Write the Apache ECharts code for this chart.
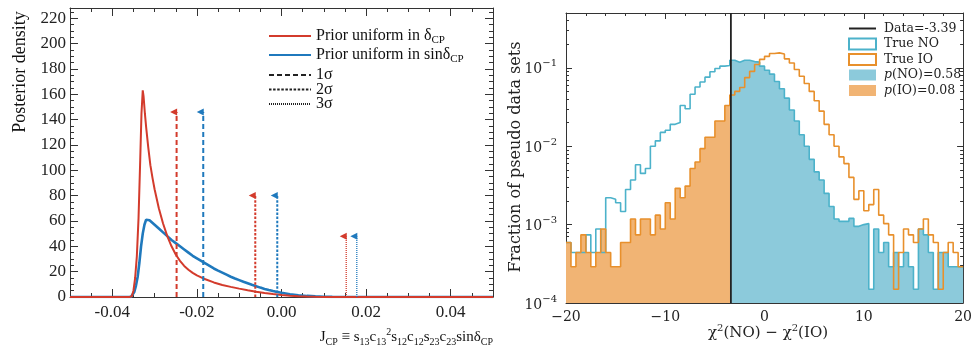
<!DOCTYPE html>
<html><head><meta charset="utf-8">
<script src="https://cdn.jsdelivr.net/npm/echarts@6/dist/echarts.min.js"></script>
<style>html,body{margin:0;padding:0;background:#fff}#c{width:975px;height:348px}</style>
</head><body><div id="c"></div><script>
// ---------- Left panel data ----------
const redCurve = [
[-0.050,0],[-0.036,0],[-0.0354,0.5],[-0.0350,5],[-0.0346,15],[-0.0342,32],[-0.0338,62],[-0.0334,108],[-0.0331,145],[-0.0328,163],[-0.0326,158],[-0.0323,145],[-0.0320,134],[-0.0315,118],[-0.0310,104],[-0.0305,94],[-0.0300,85],[-0.0290,70],[-0.0280,58],[-0.0270,48],[-0.0260,40],[-0.0250,33.5],[-0.0240,28.5],[-0.0230,24.5],[-0.0220,21.5],[-0.0210,19],[-0.0200,17],[-0.0190,15.5],[-0.0180,14],[-0.0160,11.5],[-0.0140,9.5],[-0.0120,8],[-0.0100,6.6],[-0.0080,5.3],[-0.0060,4.2],[-0.0040,3.2],[-0.0020,2.3],[0.0000,1.6],[0.0020,1.0],[0.0040,0.6],[0.0060,0.35],[0.0080,0.18],[0.0100,0.08],[0.0120,0.03],[0.0140,0],[0.050,0]
];
const blueCurve = [
[-0.050,0],[-0.0356,0],[-0.0352,1],[-0.0348,4],[-0.0344,9],[-0.0340,16],[-0.0336,27],[-0.0332,40],[-0.0328,50],[-0.0324,57],[-0.0320,61],[-0.0316,61.5],[-0.0312,60.5],[-0.0310,60],[-0.0300,57],[-0.0290,54],[-0.0280,51],[-0.0270,48],[-0.0260,45],[-0.0250,42.5],[-0.0240,40],[-0.0230,37.5],[-0.0220,35],[-0.0210,32.5],[-0.0200,30.5],[-0.0190,28.5],[-0.0180,26.5],[-0.0170,24.5],[-0.0160,22.5],[-0.0150,20.8],[-0.0140,19.2],[-0.0130,17.6],[-0.0120,16],[-0.0110,14.6],[-0.0100,13.3],[-0.0090,12],[-0.0080,10.8],[-0.0070,9.6],[-0.0060,8.5],[-0.0050,7.4],[-0.0040,6.4],[-0.0030,5.5],[-0.0020,4.7],[-0.0010,4],[0.0000,3.3],[0.0020,2.2],[0.0040,1.4],[0.0060,0.85],[0.0080,0.5],[0.0100,0.25],[0.0120,0.12],[0.0140,0.05],[0.0160,0.02],[0.0180,0],[0.050,0]
];
const sigmaLabels = ['1σ', '2σ', '3σ'];
const sigmaRed = [-0.0248, -0.0062, 0.0153];
const sigmaBlue = [-0.0185, -0.0010, 0.0178];
const sigmaHeight = [146, 80, 48];
const jcpTicks = [-0.04, -0.02, 0, 0.02, 0.04];
const redName = 'Prior uniform in δCP';
const blueName = 'Prior uniform in sinδCP';

// ---------- Right panel data ----------
const binStart = -20, binWidth = 0.5;
const trueNO = [
5.9e-4,4.4e-4,4.4e-4,4.4e-4,7.4e-4,4.4e-4,8.8e-4,4.4e-4,2.2e-3,2.1e-3,
1.9e-3,1.47e-3,2.8e-3,3.7e-3,5.8e-3,4.5e-3,5.2e-3,1.0e-2,1.17e-2,1.5e-2,
1.6e-2,1.9e-2,2.0e-2,3.3e-2,3.0e-2,4.6e-2,5.7e-2,6.6e-2,7.6e-2,8.9e-2,
9.8e-2,0.105,0.107,0.125,0.118,0.125,0.125,0.12,0.118,0.105,
0.093,0.083,0.067,0.054,0.041,0.029,0.021,0.014,0.010,0.0068,
0.0047,0.0037,0.0025,0.0017,1.18e-3,1.1e-3,1.1e-3,1.2e-3,9.5e-4,1.0e-3,
1.03e-3,1.5e-4,8.8e-4,4.4e-4,5.9e-4,2.9e-4,4.4e-4,2.9e-4,4.4e-4,2.9e-4,
1.5e-4,8.8e-4,7.4e-4,4.4e-4,1.5e-4,4.4e-4,4.4e-4,2.9e-4,2.9e-4,2.9e-4
];
const trueIO = [
5.9e-4,2.9e-4,4.4e-4,7.4e-4,4.4e-4,2.9e-4,4.4e-4,8.8e-4,4.4e-4,2.9e-4,
2.9e-4,5.9e-4,5.9e-4,1.18e-3,7.4e-4,1.18e-3,1.18e-3,7.4e-4,1.32e-3,8.8e-4,
1.9e-3,1.18e-3,2.9e-3,2.2e-3,3.1e-3,5.2e-3,6.3e-3,9.3e-3,1.3e-2,1.3e-2,
2.1e-2,2.1e-2,3.3e-2,0.045,0.05,0.056,0.075,0.09,0.11,0.128,
0.14,0.152,0.155,0.15,0.13,0.115,0.095,0.078,0.063,0.05,
0.038,0.028,0.019,0.014,0.01,0.0073,0.006,0.004,0.0021,0.0027,
0.0015,0.0018,0.0028,1.32e-3,1.03e-3,7.4e-4,1.5e-4,4.4e-4,8.8e-4,7.4e-4,
5.9e-4,8.8e-4,1.18e-3,7.4e-4,5.9e-4,1.5e-4,4.4e-4,5.9e-4,4.4e-4,2.9e-4
];
const dataValue = -3.39;
const pNO = '0.58', pIO = '0.08';
const xTicksR = [-20, -10, 0, 10, 20];

// ---------- styling ----------
const serifL = '"Liberation Serif", "Times New Roman", serif';
const serifR = '"DejaVu Serif", serif';
const RED = '#d33b2c', BLUE = '#1f79bd';
const NO_LINE = '#4cb2ca', IO_LINE = '#e8902c', NO_FILL = '#8ccadb', IO_FILL = '#f1b474';
const AX = '#333';
const yMinR = 1e-4, yMaxR = 0.5;
const NOSYM = { color: 'rgba(0,0,0,0)', borderWidth: 0 };

// ---------- build histogram step data ----------
const nb = trueNO.length;
const binEdges = [];
for (let i = 0; i <= nb; i++) binEdges.push(binStart + i * binWidth);
function stepData(vals) {
  const d = vals.map((v, i) => [binEdges[i], v]);
  d.push([binEdges[nb], vals[nb - 1]]);
  return d;
}
const cut = Math.floor((dataValue - binStart) / binWidth);
const noFill = [[dataValue, trueNO[cut]]];
for (let i = cut + 1; i < nb; i++) noFill.push([binEdges[i], trueNO[i]]);
noFill.push([binEdges[nb], trueNO[nb - 1]]);
const ioFill = [];
for (let i = 0; i <= cut; i++) ioFill.push([binEdges[i], trueIO[i]]);
ioFill.push([dataValue, trueIO[cut]]);

const minorLog = [];
for (let e = -4; e <= -1; e++) for (let m = 2; m <= 9; m++) { const v = m * Math.pow(10, e); if (v < yMaxR) minorLog.push(v); }

const chart = echarts.init(document.getElementById('c'));

const dashes = [[5, 3], [2.5, 1.6], [1, 1]];
const widths = [2, 2, 1.3];

const series = [];
series.push({ name: redName, type: 'line', xAxisIndex: 0, yAxisIndex: 0, data: redCurve, symbol: 'none',
  lineStyle: { color: RED, width: 2 }, itemStyle: { color: RED }, z: 3 });
series.push({ name: blueName, type: 'line', xAxisIndex: 0, yAxisIndex: 0, data: blueCurve, symbol: 'none',
  lineStyle: { color: BLUE, width: 2.6 }, itemStyle: { color: BLUE }, z: 2 });
[[sigmaRed, RED], [sigmaBlue, BLUE]].forEach(([xs, col], ci) => {
  xs.forEach((xv, i) => {
    series.push({ name: sigmaLabels[i] + (ci ? ' blue' : ' red'), type: 'line', xAxisIndex: 0, yAxisIndex: 0,
      symbol: 'triangle', symbolSize: 7, symbolRotate: 90, symbolOffset: [-3, 0], showSymbol: true,
      data: [{ value: [xv, 0], symbol: 'none' }, { value: [xv, sigmaHeight[i]] }],
      lineStyle: { color: col, width: widths[i], type: dashes[i] }, itemStyle: { color: col }, z: 4, silent: true });
  });
});
sigmaLabels.forEach((n, i) => {
  series.push({ name: n, type: 'line', xAxisIndex: 0, yAxisIndex: 0, data: [], symbol: 'none',
    lineStyle: { color: '#222', width: widths[i] * 0.8, type: dashes[i] }, itemStyle: { color: '#222' } });
});
// right panel
series.push({ name: 'p(IO)=' + pIO, type: 'line', step: 'end', xAxisIndex: 4, yAxisIndex: 2, data: ioFill, symbol: 'none',
  lineStyle: { width: 0, color: IO_FILL }, itemStyle: { color: IO_FILL }, areaStyle: { color: IO_FILL, opacity: 1, origin: 'start' }, z: 1 });
series.push({ name: 'p(NO)=' + pNO, type: 'line', step: 'end', xAxisIndex: 4, yAxisIndex: 2, data: noFill, symbol: 'none',
  lineStyle: { width: 0, color: NO_FILL }, itemStyle: { color: NO_FILL }, areaStyle: { color: NO_FILL, opacity: 1, origin: 'start' }, z: 1 });
series.push({ name: 'True NO', type: 'line', step: 'end', xAxisIndex: 4, yAxisIndex: 2, data: stepData(trueNO), symbol: 'none',
  lineStyle: { width: 1.6, color: NO_LINE }, itemStyle: { color: NO_LINE }, z: 2 });
series.push({ name: 'True IO', type: 'line', step: 'end', xAxisIndex: 4, yAxisIndex: 2, data: stepData(trueIO), symbol: 'none',
  lineStyle: { width: 1.6, color: IO_LINE }, itemStyle: { color: IO_LINE }, z: 2 });
series.push({ name: 'Data=' + dataValue, type: 'line', xAxisIndex: 4, yAxisIndex: 2, data: [[dataValue, yMinR], [dataValue, yMaxR]], symbol: 'none',
  lineStyle: { width: 1.8, color: '#222' }, itemStyle: { color: '#222' }, z: 5 });

const hidden = { show: false };
function line(show) { return { show: show, onZero: false, lineStyle: { color: AX, width: 1 } }; }
function xL(pos, major, labels) {
  const a = { gridIndex: 0, type: 'value', min: -0.05, max: 0.05, position: pos, splitLine: hidden, axisLine: line(major) };
  if (major) {
    a.axisTick = { show: true, inside: true, length: 8, customValues: jcpTicks, lineStyle: { color: AX } };
    a.axisLabel = labels ? { show: true, customValues: jcpTicks, margin: 7, color: '#222', fontFamily: serifL, fontSize: 17,
      formatter: v => (Math.abs(v) < 1e-9 ? '0.00' : v.toFixed(2)) } : hidden;
  } else {
    a.interval = 0.005;
    a.axisTick = { show: true, inside: true, length: 4, lineStyle: { color: AX } };
    a.axisLabel = hidden;
  }
  return a;
}
function yL(pos, labels) {
  return { gridIndex: 0, type: 'value', min: 0, max: 228, interval: 20, position: pos, splitLine: hidden, axisLine: line(true),
    axisTick: { show: true, inside: true, length: 8, lineStyle: { color: AX } },
    minorTick: { show: true, splitNumber: 4, length: 4, lineStyle: { color: AX } },
    axisLabel: labels ? { show: true, margin: 4, color: '#222', fontFamily: serifL, fontSize: 17,
      formatter: v => (v % 20 === 0 ? String(v) : '') } : hidden };
}
function xR(pos, labels) {
  return { gridIndex: 1, type: 'value', min: -20, max: 20, interval: 10, position: pos, splitLine: hidden, axisLine: line(true),
    axisTick: { show: true, inside: true, length: 6, lineStyle: { color: AX } },
    minorTick: { show: true, splitNumber: 5, length: 3, lineStyle: { color: AX } },
    axisLabel: labels ? { show: true, margin: 7, color: '#222', fontFamily: serifR, fontSize: 14,
      formatter: v => (xTicksR.indexOf(v) >= 0 ? String(v).replace('-', '−') : '') } : hidden };
}
function yR(pos, major, labels) {
  const a = { gridIndex: 1, type: 'log', logBase: 10, min: yMinR, max: yMaxR, position: pos, splitLine: hidden, axisLine: line(major) };
  if (major) {
    a.axisTick = { show: true, inside: true, length: 6, lineStyle: { color: AX } };
    a.axisLabel = labels ? { show: true, margin: 9, color: '#222', fontFamily: serifR,
      formatter: v => { const l = Math.log10(v); const e = Math.round(l); if (Math.abs(l - e) > 1e-6) return ''; return '{b|10}{sup|' + (e < 0 ? '−' : '') + Math.abs(e) + '}'; },
      rich: { b: { fontFamily: serifR, fontSize: 14, lineHeight: 18, verticalAlign: 'bottom', color: '#222' },
              sup: { fontFamily: serifR, fontSize: 10, lineHeight: 8, verticalAlign: 'top', color: '#222' } } } : hidden;
  } else {
    a.axisTick = { show: true, inside: true, length: 3, customValues: minorLog, lineStyle: { color: AX } };
    a.axisLabel = hidden;
  }
  return a;
}

const subRich = {
  t: { fontFamily: serifL, fontSize: 16, lineHeight: 20, verticalAlign: 'middle', color: '#111' },
  s: { fontFamily: serifL, fontSize: 11, lineHeight: 10, verticalAlign: 'bottom', color: '#111' },
  p: { fontFamily: serifL, fontSize: 11, lineHeight: 10, verticalAlign: 'top', color: '#111' }
};
const titleRich = {
  t: { fontFamily: serifL, fontSize: 15, lineHeight: 20, verticalAlign: 'middle', color: '#111' },
  s: { fontFamily: serifL, fontSize: 10, lineHeight: 10, verticalAlign: 'bottom', color: '#111' },
  p: { fontFamily: serifL, fontSize: 10, lineHeight: 10, verticalAlign: 'top', color: '#111' }
};

const option = {
  animation: false,
  backgroundColor: '#fff',
  grid: [
    { left: 70, top: 8, width: 423, height: 289, containLabel: false },
    { left: 566, top: 13, width: 404, height: 290, containLabel: false }
  ],
  xAxis: [xL('bottom', true, true), xL('top', true, false), xL('bottom', false, false), xL('top', false, false),
          xR('bottom', true), xR('top', false)],
  yAxis: [yL('left', true), yL('right', false),
          yR('left', true, true), yR('right', true, false), yR('left', false, false), yR('right', false, false)],
  legend: [
    { data: [{ name: redName, itemStyle: NOSYM }, { name: blueName, itemStyle: NOSYM }], orient: 'vertical', left: 268, top: 28,
      padding: 0, itemWidth: 42, itemHeight: 12, itemGap: 1,
      selectedMode: false, formatter: n => '{t|' + n.slice(0, -2) + '}{s|CP}',
      textStyle: { fontFamily: serifL, fontSize: 16, color: '#111', rich: subRich } },
    { data: sigmaLabels.map(n => ({ name: n, itemStyle: NOSYM })), orient: 'vertical', left: 268, top: 67,
      padding: 0, itemWidth: 42, itemHeight: 10, itemGap: -1.5,
      selectedMode: false, textStyle: { fontFamily: serifL, fontSize: 16, lineHeight: 12, color: '#111' } },
    { data: [
        { name: 'Data=' + dataValue, itemStyle: NOSYM },
        { name: 'True NO', icon: 'rect', itemStyle: { color: 'rgba(255,255,255,0)', borderColor: NO_LINE, borderWidth: 2 } },
        { name: 'True IO', icon: 'rect', itemStyle: { color: 'rgba(255,255,255,0)', borderColor: IO_LINE, borderWidth: 2 } },
        { name: 'p(NO)=' + pNO, icon: 'rect', itemStyle: { color: NO_FILL, borderWidth: 0 } },
        { name: 'p(IO)=' + pIO, icon: 'rect', itemStyle: { color: IO_FILL, borderWidth: 0 } }
      ],
      orient: 'vertical', left: 848, top: 22, padding: 0, itemWidth: 27, itemHeight: 11, itemGap: 2.5, selectedMode: false,
      formatter: n => n.indexOf('p(') === 0 ? '{i|p}{r|' + n.slice(1) + '}' : '{n|' + n + '}',
      textStyle: { fontFamily: serifR, fontSize: 12.5, color: '#222',
        rich: { n: { fontFamily: serifR, fontSize: 12.5, lineHeight: 16, color: '#222', padding: [0, 0, 0, 3] },
                r: { fontFamily: serifR, fontSize: 12.5, lineHeight: 16, color: '#222' },
                i: { fontFamily: serifR, fontSize: 12.5, lineHeight: 16, fontStyle: 'italic', color: '#222', padding: [0, 0, 0, 3] } } } }
  ],
  graphic: [
    { type: 'text', x: 20, y: 72, rotation: Math.PI / 2,
      style: { text: 'Posterior density', fontFamily: serifL, fontSize: 18, fill: '#111', align: 'center', verticalAlign: 'middle' } },
    { type: 'text', x: 493, y: 337,
      style: { text: '{t|J}{s|CP}{t| ≡ s}{s|13}{t|c}{s|13}{p|2}{t|s}{s|12}{t|c}{s|12}{t|s}{s|23}{t|c}{s|23}{t|sinδ}{s|CP}',
        rich: titleRich, align: 'right', verticalAlign: 'middle', fill: '#111' } },
    { type: 'text', x: 516, y: 157, rotation: Math.PI / 2,
      style: { text: 'Fraction of pseudo data sets', fontFamily: serifR, fontSize: 16, fill: '#222', align: 'center', verticalAlign: 'middle' } },
    { type: 'text', x: 768, y: 333,
      style: { text: '{a|χ}{p|2}{a|(NO) − χ}{p|2}{a|(IO)}', align: 'center', verticalAlign: 'middle', fill: '#222',
        rich: { a: { fontFamily: serifR, fontSize: 15, lineHeight: 20, color: '#222' },
                p: { fontFamily: serifR, fontSize: 10, lineHeight: 10, verticalAlign: 'top', color: '#222' } } } }
  ],
  series: series
};
chart.setOption(option);
</script></body></html>
